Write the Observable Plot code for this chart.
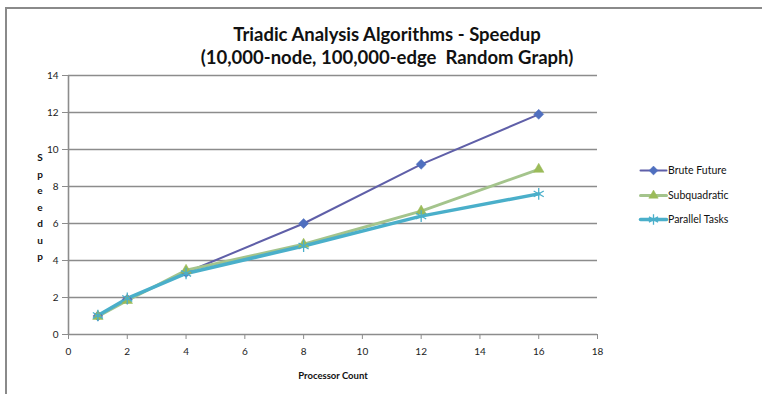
<!DOCTYPE html>
<html><head><meta charset="utf-8">
<script src="https://cdn.jsdelivr.net/npm/d3@7"></script>
<script src="https://cdn.jsdelivr.net/npm/@observablehq/plot@0.6"></script>
<style>
body{margin:0;background:#fff;}
#wrap{position:relative;width:762px;height:394px;overflow:hidden;background:#fff;font-family:Lato,"Open Sans",sans-serif;color:#111;}
#wrap svg{position:absolute;left:0;top:0;}
.border-top{position:absolute;left:5px;top:7px;width:760px;height:2px;background:#8a8a8a;}
.border-left{position:absolute;left:5px;top:7px;width:2px;height:400px;background:#8a8a8a;}
.title{position:absolute;left:0;width:774px;top:23px;text-align:center;font-weight:bold;font-size:18.5px;line-height:23px;}
.ylab{position:absolute;left:34px;top:149px;width:12px;text-align:center;font-weight:bold;font-size:10px;line-height:16.5px;}
.xlab{position:absolute;left:233px;width:200px;top:370px;text-align:center;font-weight:bold;font-size:9.5px;}
.legend{position:absolute;left:640px;top:161px;font-size:10.5px;}
.legend div{height:24.5px;display:flex;align-items:flex-start;}
.legend svg{position:static!important;}
.legend span{margin-left:2px;line-height:18px;}
</style></head><body><div id="wrap"></div><script>
const processors = [1, 2, 4, 8, 12, 16];
const bruteFuture = [1.0, 1.9, 3.35, 6.0, 9.2, 11.9];
const subquadratic = [0.98, 1.84, 3.47, 4.88, 6.67, 8.93];
const parallelTasks = [1.03, 1.95, 3.3, 4.78, 6.4, 7.6];
const seriesNames = ["Brute Future", "Subquadratic", "Parallel Tasks"];
const xTicks = [0, 2, 4, 6, 8, 10, 12, 14, 16, 18];
const yTicks = [0, 2, 4, 6, 8, 10, 12, 14];
const titleLines = ["Triadic Analysis Algorithms - Speedup", "(10,000-node, 100,000-edge  Random Graph)"];
const xLabel = "Processor Count";
const yLabel = "Speedup";

const styles = {
  "Brute Future": {line: "#5f5fa8", width: 2, marker: "diamond2", fill: "#4f6fbf", stroke: "#4f6fbf", r: 4.5},
  "Subquadratic": {line: "#a4c48c", width: 3, marker: "triangle2", fill: "#9bbb59", stroke: "#9bbb59", r: 5},
  "Parallel Tasks": {line: "#4aafca", width: 3.5, marker: "asterisk", fill: "none", stroke: "#4aafca", r: 5.5}
};
const valuesBySeries = [bruteFuture, subquadratic, parallelTasks];
const rows = [];
seriesNames.forEach((s, i) => processors.forEach((p, j) => rows.push({series: s, x: p, y: valuesBySeries[i][j]})));

const marks = [
  Plot.ruleY(yTicks.slice(1), {stroke: "#8c8c8c", strokeWidth: 1.6}),
  Plot.ruleX([0], {stroke: "#8c8c8c", strokeWidth: 1.6}),
  Plot.ruleY([0], {stroke: "#8c8c8c", strokeWidth: 1.6}),
  Plot.axisX({ticks: xTicks, tickSize: 5, tickPadding: 8, stroke: "#8c8c8c", fill: "#222", fontSize: 10, label: null, tickFormat: d => d}),
  Plot.axisY({ticks: yTicks, tickSize: 6, tickPadding: 4, stroke: "#8c8c8c", fill: "#222", fontSize: 10, label: null, tickFormat: d => d})
];
seriesNames.forEach(s => {
  const st = styles[s];
  const data = rows.filter(d => d.series === s);
  marks.push(Plot.line(data, {x: "x", y: "y", stroke: st.line, strokeWidth: st.width}));
});
seriesNames.forEach(s => {
  const st = styles[s];
  const data = rows.filter(d => d.series === s);
  marks.push(Plot.dot(data, {x: "x", y: "y", symbol: () => st.marker, r: st.r, fill: st.fill, stroke: st.stroke, strokeWidth: st.marker === "asterisk" ? 1.3 : 0.5}));
});

const chart = Plot.plot({
  width: 762, height: 394,
  marginLeft: 68, marginRight: 165, marginTop: 75, marginBottom: 60,
  style: {background: "transparent", fontFamily: "Lato, 'Open Sans', sans-serif"},
  x: {domain: [0, 18], label: null},
  y: {domain: [0, 14], label: null},
  symbol: {type: "identity"},
  marks
});

const wrap = document.getElementById("wrap");
wrap.appendChild(chart);
wrap.insertAdjacentHTML("beforeend", '<div class="border-top"></div><div class="border-left"></div>');
const t = document.createElement("div"); t.className = "title";
t.innerHTML = titleLines.join("<br>").replace(/  /g, " &nbsp;");
wrap.appendChild(t);
const yl = document.createElement("div"); yl.className = "ylab";
yl.innerHTML = yLabel.split("").join("<br>");
wrap.appendChild(yl);
const xl = document.createElement("div"); xl.className = "xlab"; xl.textContent = xLabel; wrap.appendChild(xl);

const lg = document.createElement("div"); lg.className = "legend";
seriesNames.forEach(s => {
  const st = styles[s];
  const row = document.createElement("div");
  const sw = Plot.plot({
    width: 26, height: 18, margin: 0,
    x: {domain: [0, 1], axis: null}, y: {domain: [0, 1], axis: null},
    symbol: {type: "identity"},
    style: {background: "transparent", overflow: "visible"},
    marks: [
      Plot.line([{x: 0, y: 0.5}, {x: 1, y: 0.5}], {x: "x", y: "y", stroke: st.line, strokeWidth: st.width}),
      Plot.dot([{x: 0.5, y: 0.5}], {x: "x", y: "y", symbol: () => st.marker, r: st.r - 0.5, fill: st.fill, stroke: st.stroke, strokeWidth: st.marker === "asterisk" ? 1.3 : 0.5})
    ]
  });
  row.appendChild(sw);
  const sp = document.createElement("span"); sp.textContent = s; row.appendChild(sp);
  lg.appendChild(row);
});
wrap.appendChild(lg);
</script></body></html>
